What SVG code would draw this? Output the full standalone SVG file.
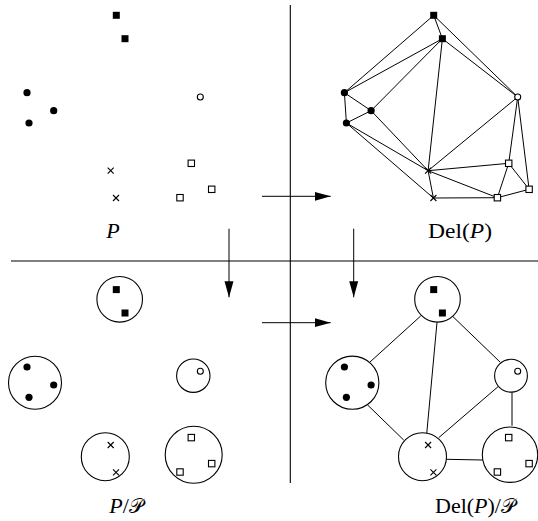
<svg xmlns="http://www.w3.org/2000/svg" xmlns:xlink="http://www.w3.org/1999/xlink" width="538" height="521" viewBox="0 0 538 521">
<style>
.ln{stroke:#000;stroke-width:1;fill:none}
.div{stroke:#000;stroke-width:1.1;fill:none}
.cl{stroke:#000;stroke-width:1.1;fill:#fff}
.lbl{font-family:"Liberation Serif","DejaVu Serif",serif;font-size:22px;fill:#000}
.it{font-style:italic}
.scr{font-family:"DejaVu Serif","Liberation Serif",serif;font-style:normal;font-size:20px}
</style>
<defs>
<marker id="ah" markerUnits="userSpaceOnUse" markerWidth="17" markerHeight="10" refX="16" refY="5" orient="auto">
<path d="M0,0.5 L16,5 L0,9.5 z" fill="#000"/>
</marker>
<rect id="fs" x="-3.5" y="-3.5" width="7" height="7" fill="#000"/>
<circle id="fc" r="3.6" fill="#000"/>
<circle id="oc" r="3" fill="#fff" stroke="#000" stroke-width="1.1"/>
<path id="xx" d="M-3,-3 L3,3 M-3,3 L3,-3" stroke="#000" stroke-width="1.1" fill="none"/>
<rect id="os" x="-3.2" y="-3.2" width="6.4" height="6.4" fill="#fff" stroke="#000" stroke-width="1.1"/>
<g id="pts">
<use xlink:href="#fs" x="116.3" y="15.3"/>
<use xlink:href="#fs" x="125" y="38.7"/>
<use xlink:href="#fc" x="27" y="92.7"/>
<use xlink:href="#fc" x="53.7" y="110.7"/>
<use xlink:href="#fc" x="29" y="123"/>
<use xlink:href="#oc" x="200.3" y="97"/>
<use xlink:href="#xx" x="110.7" y="170.7"/>
<use xlink:href="#xx" x="116" y="198"/>
<use xlink:href="#os" x="191.3" y="163.3"/>
<use xlink:href="#os" x="211.7" y="189.3"/>
<use xlink:href="#os" x="180" y="197.7"/>
</g>
</defs>

<g id="dividers">
<line class="div" x1="290.3" y1="5" x2="290.3" y2="483"/>
<line class="div" x1="11" y1="261" x2="538" y2="261"/>
</g>

<g id="connectors">
<line class="ln" x1="262" y1="196.3" x2="330.7" y2="196.3" marker-end="url(#ah)"/>
<line class="ln" x1="229" y1="228.7" x2="229" y2="297.3" marker-end="url(#ah)"/>
<line class="ln" x1="353.7" y1="228.7" x2="353.7" y2="297.3" marker-end="url(#ah)"/>
<line class="ln" x1="262" y1="322.7" x2="330.7" y2="322.7" marker-end="url(#ah)"/>
</g>

<g id="panel-P">
<use xlink:href="#pts"/>
<text class="lbl it" x="113" y="238" text-anchor="middle">P</text>
</g>

<g id="panel-DelP">
<g id="del-edges" class="ln" transform="translate(317.4,0)">
<path d="M116.3,15.3 L125,38.7 M116.3,15.3 L27,92.7 M116.3,15.3 L200.3,97 M125,38.7 L27,92.7 M125,38.7 L53.7,110.7 M125,38.7 L110.7,170.7 M125,38.7 L200.3,97 M27,92.7 L53.7,110.7 M27,92.7 L29,123 M53.7,110.7 L29,123 M53.7,110.7 L110.7,170.7 M29,123 L110.7,170.7 M29,123 L116,198 M110.7,170.7 L116,198 M110.7,170.7 L200.3,97 M110.7,170.7 L191.3,163.3 M110.7,170.7 L180,197.7 M200.3,97 L191.3,163.3 M200.3,97 L211.7,189.3 M191.3,163.3 L211.7,189.3 M191.3,163.3 L180,197.7 M211.7,189.3 L180,197.7 M116,198 L180,197.7"/>
</g>
<use xlink:href="#pts" transform="translate(317.4,0)"/>
<text class="lbl" x="460" y="238" text-anchor="middle" textLength="64" lengthAdjust="spacingAndGlyphs">Del(<tspan class="it">P</tspan>)</text>
</g>

<g id="panel-quotient">
<circle id="q-sq" class="cl" cx="119.7" cy="299.3" r="22.8"/>
<circle id="q-c" class="cl" cx="35" cy="382.7" r="26.5"/>
<circle id="q-o" class="cl" cx="193.3" cy="375.7" r="16.7"/>
<circle id="q-x" class="cl" cx="105.3" cy="456.7" r="24"/>
<circle id="q-q" class="cl" cx="193.7" cy="454.7" r="28.5"/>
<use xlink:href="#pts" transform="translate(0,274.3)"/>
<text class="lbl" x="126" y="513" text-anchor="middle"><tspan class="it">P</tspan>/<tspan class="scr">𝒫</tspan></text>
</g>

<g id="panel-DelQuotient">
<g id="dq-edges" class="ln">
<line x1="420.7" y1="316" x2="370" y2="362"/>
<line x1="437" y1="322.3" x2="426.7" y2="434"/>
<line x1="453" y1="316.7" x2="500.3" y2="362.3"/>
<line x1="367.3" y1="404.7" x2="403.7" y2="440"/>
<line x1="498" y1="386.7" x2="438.7" y2="437.7"/>
<line x1="512" y1="392.3" x2="512" y2="425.7"/>
<line x1="446.3" y1="459.3" x2="483" y2="460"/>
</g>
<circle id="dq-sq" class="cl" cx="437.5" cy="299.3" r="22.8"/>
<circle id="dq-c" class="cl" cx="352.3" cy="382.7" r="26.6"/>
<circle id="dq-o" class="cl" cx="511" cy="375.7" r="16.4"/>
<circle id="dq-x" class="cl" cx="422.5" cy="456.7" r="24"/>
<circle id="dq-q" class="cl" cx="510" cy="454.7" r="27.7"/>
<use xlink:href="#pts" transform="translate(317.4,274.3)"/>
<text class="lbl" x="475" y="513" text-anchor="middle">Del(<tspan class="it">P</tspan>)/<tspan class="scr">𝒫</tspan></text>
</g>
</svg>
